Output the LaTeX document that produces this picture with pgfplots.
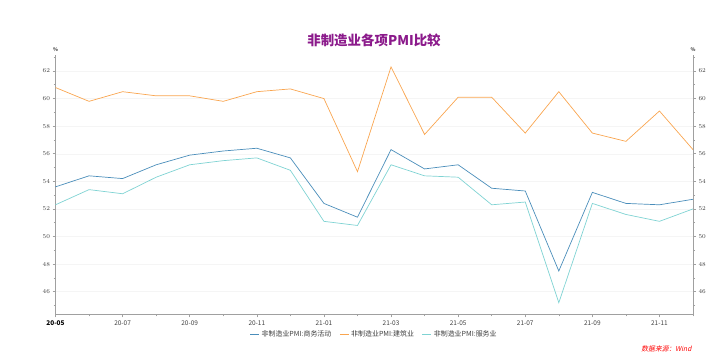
\documentclass[border=0pt]{standalone}
\usepackage{pgfplots}
\pgfplotsset{compat=1.18}
\usepackage{fontspec}
\setmainfont{Noto Sans CJK SC}
\newfontfamily\slantcjk[FakeSlant=0.2]{Noto Sans CJK SC}
\definecolor{cblue}{HTML}{4A8DBA}
\definecolor{corange}{HTML}{F9A54F}
\definecolor{cteal}{HTML}{7FD3D3}
\definecolor{ctitle}{HTML}{8B1A8B}
\definecolor{caxis}{HTML}{A0A0A0}
\definecolor{ctext}{HTML}{404040}
\pgfplotstableread{
x biz cons serv
0 53.6 60.8 52.3
1 54.4 59.8 53.4
2 54.2 60.5 53.1
3 55.2 60.2 54.3
4 55.9 60.2 55.2
5 56.2 59.8 55.5
6 56.4 60.5 55.7
7 55.7 60.7 54.8
8 52.4 60.0 51.1
9 51.4 54.7 50.8
10 56.3 62.3 55.2
11 54.9 57.4 54.4
12 55.2 60.1 54.3
13 53.5 60.1 52.3
14 53.3 57.5 52.5
15 47.5 60.5 45.2
16 53.2 57.5 52.4
17 52.4 56.9 51.6
18 52.3 59.1 51.1
19 52.7 56.3 52.0
}\datatable
\begin{document}
\begin{tikzpicture}[x=1bp,y=1bp]
\path[use as bounding box] (0,0) rectangle (723,362);
\pgfplotsset{
  base/.style={
    at={(55.5bp,47.7bp)}, anchor=south west,
    scale only axis, width=637.5bp, height=259.3bp,
    xmin=0, xmax=19, ymin=44.36, ymax=63.16,
    ytick={46,48,...,62}, minor ytick={45,47,...,63},
    axis line style={caxis, line width=0.8pt},
    tick style={caxis, line width=0.6pt},
    major tick length=3bp, minor tick length=2bp,
    tick align=outside,
    ticklabel style={font=\fontsize{6.5}{7.5}\selectfont, text=ctext},
    clip=false,
  }
}
\begin{axis}[base,
  axis x line*=bottom, axis y line*=left,
  xtick={0,2,...,18}, minor xtick={1,3,...,19},
  xticklabels={\textbf{\color{black}20-05},20-07,20-09,20-11,21-01,21-03,21-05,21-07,21-09,21-11},
  ymajorgrids, grid style={color=gray!8, line width=0.5pt},
  yticklabel style={xshift=1bp},
  legend style={at={(0.5,-0.048)}, anchor=north, draw=none, fill=none,
    font=\fontsize{7}{8}\selectfont, text=ctext, legend columns=3,
    /tikz/every even column/.append style={column sep=6bp}},
  legend image code/.code={\draw[#1] (0cm,0cm) -- (0.32cm,0cm);},
]
\addplot[cblue, line width=0.7pt] table[x=x,y=biz] {\datatable};
\addlegendentry{非制造业PMI:商务活动}
\addplot[corange, line width=0.7pt] table[x=x,y=cons] {\datatable};
\addlegendentry{非制造业PMI:建筑业}
\addplot[cteal, line width=0.7pt] table[x=x,y=serv] {\datatable};
\addlegendentry{非制造业PMI:服务业}
\node[font=\fontsize{5}{6}\selectfont\bfseries, text=ctext, anchor=south] at (axis cs:0,63.16) {\%};
\end{axis}
\begin{axis}[base,
  axis x line=none, axis y line*=right,
  yticklabel style={xshift=-1bp},
]
\addplot[draw=none] coordinates {(0,50)};
\node[font=\fontsize{5}{6}\selectfont\bfseries, text=ctext, anchor=south] at (axis cs:19,63.16) {\%};
\end{axis}
\node[font=\fontsize{13.5}{15}\selectfont\bfseries, text=ctitle] at (374,322) {非制造业各项PMI比较};
\node[font=\fontsize{6.8}{7.5}\selectfont\slantcjk, text=red, anchor=east] at (695,13) {数据来源：Wind};
\end{tikzpicture}
\end{document}
